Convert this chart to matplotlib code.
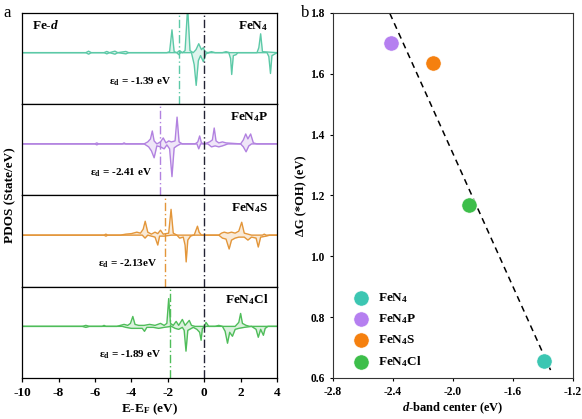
import numpy as np
import matplotlib
matplotlib.use('Agg')
import matplotlib.pyplot as plt

plt.rcParams['font.family'] = 'Liberation Serif'
plt.rcParams['font.weight'] = 'bold'
plt.rcParams['mathtext.fontset'] = 'custom'
plt.rcParams['mathtext.rm'] = 'Liberation Serif:bold'
plt.rcParams['mathtext.it'] = 'Liberation Serif:italic:bold'
plt.rcParams['mathtext.bf'] = 'Liberation Serif:bold'
plt.rcParams['axes.unicode_minus'] = False

# ---- panel a: Fe-d PDOS (energy, dos) ----
fen4_up = [(-10, 0), (-6.5, 0), (-6.35, 0.15), (-6.2, 0), (-5.5, 0), (-5.35, 0.12), (-5.2, 0),
           (-4.9, 0.15), (-4.75, 0), (-4.3, 0.12), (-4.15, 0), (-2.05, 0), (-1.9, 0.1),
           (-1.77, 2.3), (-1.65, 0.1), (-1.5, 0), (-1.35, 0.2), (-1.2, 0), (-1.05, 0.2),
           (-0.91, 4.6), (-0.78, 0.2), (-0.6, 0), (-0.45, 0.3), (-0.3, 0.9), (-0.15, 0.3),
           (-0.05, 0.5), (0.05, 0.1), (0.2, 0), (0.4, 0.1), (0.6, 0), (1.0, 0), (1.2, 0.1),
           (1.4, 0), (2.9, 0), (3.0, 0.5), (3.1, 1.9), (3.2, 0.1), (4, 0)]
fen4_dn = [(-10, 0), (-6.5, 0), (-6.35, -0.15), (-6.2, 0), (-5.5, 0), (-5.35, -0.12), (-5.2, 0),
           (-4.9, -0.15), (-4.75, 0), (-4.3, -0.12), (-4.15, 0), (-1.5, 0), (-1.4, -0.2),
           (-1.3, 0), (-0.7, 0), (-0.55, -1.2), (-0.44, -3.3), (-0.32, -0.8), (-0.2, -0.3),
           (-0.05, -0.9), (0.1, -0.1), (0.3, 0), (1.35, 0), (1.45, -0.6), (1.51, -2.2),
           (1.6, -0.3), (1.75, -0.2), (1.85, 0), (3.45, 0), (3.55, -0.4), (3.64, -2.1),
           (3.72, -0.3), (4, 0)]
fen4p_up = [(-10, 0), (-6.0, 0), (-5.9, 0.1), (-5.8, 0), (-4.5, 0), (-4.4, 0.1), (-4.3, 0),
            (-3.3, 0), (-3.1, 0.2), (-2.95, 0.5), (-2.85, 1.3), (-2.75, 0.3), (-2.6, 0),
            (-2.4, 0.2), (-2.25, 0.6), (-2.1, 0.1), (-1.95, 0.3), (-1.8, 0.2), (-1.6, 0.3),
            (-1.49, 2.7), (-1.38, 0.2), (-1.2, 0), (-0.5, 0), (-0.35, 0.2), (-0.25, 0.8),
            (-0.15, 0.1), (0, 0), (0.3, 0.2), (0.45, 0.4), (0.55, 1.6), (0.65, 0.3), (0.8, 0.1),
            (1.0, 0.2), (1.2, 0.1), (2.0, 0), (2.15, 0.4), (2.28, 1.0), (2.4, 0.5), (2.55, 1.0),
            (2.7, 0.1), (2.9, 0), (4, 0)]
fen4p_dn = [(-10, 0), (-6.0, 0), (-5.9, -0.1), (-5.8, 0), (-3.3, 0), (-3.05, -0.3), (-2.9, -0.7),
            (-2.75, -1.4), (-2.6, -0.2), (-2.4, -0.3), (-2.2, -0.5), (-2.05, -0.1), (-1.9, -0.5),
            (-1.77, -3.3), (-1.65, -0.4), (-1.5, -0.2), (-1.3, 0), (-0.4, 0), (-0.3, -0.5),
            (-0.2, 0), (0.2, 0), (0.4, -0.3), (0.6, -0.2), (0.8, -0.3), (1.0, -0.2), (1.3, 0),
            (2.0, 0), (2.15, -0.3), (2.3, -0.8), (2.45, -0.2), (2.6, 0), (4, 0)]
fen4s_up = [(-10, 0), (-5.5, 0), (-5.4, 0.1), (-5.3, 0), (-4.6, 0), (-4.3, 0.1), (-4.0, 0.15),
            (-3.7, 0.3), (-3.5, 0.2), (-3.35, 0.6), (-3.24, 1.4), (-3.1, 0.3), (-2.9, 0.1),
            (-2.7, 0.3), (-2.55, 0.15), (-2.4, 0.5), (-2.25, 0.1), (-1.95, 0.2), (-1.82, 2.6),
            (-1.7, 0.2), (-1.5, 0), (-0.55, 0), (-0.45, 0.5), (-0.37, 0.9), (-0.28, 0.3),
            (-0.15, 0), (0.8, 0), (0.95, 0.2), (1.1, 0.3), (1.3, 0.2), (1.5, 0.3), (1.7, 0.2),
            (1.9, 0.4), (2.06, 1.3), (2.2, 0.2), (2.4, 0.1), (2.6, 0), (3.2, 0), (3.3, 0.1),
            (3.4, 0), (4, 0)]
fen4s_dn = [(-10, 0), (-5.5, 0), (-5.4, -0.1), (-5.3, 0), (-3.4, 0), (-3.25, -0.3), (-3.1, 0),
            (-2.7, -0.2), (-2.55, -1.0), (-2.45, -0.1), (-2.2, -0.1), (-1.8, 0), (-1.5, 0),
            (-1.35, -0.3), (-1.15, -0.2), (-1.05, -1.0), (-0.99, -2.7), (-0.9, -0.5),
            (-0.75, -0.1), (-0.6, 0), (0.8, 0), (1.0, -0.3), (1.2, -0.4), (1.37, -1.4),
            (1.5, -0.5), (1.7, -0.3), (1.9, -0.2), (2.2, -0.2), (2.4, -0.5), (2.6, -0.2),
            (2.85, -0.3), (2.97, -1.2), (3.1, -0.2), (3.4, -0.1), (3.6, 0), (4, 0)]
fen4cl_up = [(-10, 0), (-6.7, 0), (-6.5, 0.1), (-6.3, 0), (-5.6, 0), (-5.5, 0.1), (-5.4, 0),
             (-4.8, 0), (-4.6, 0.1), (-4.4, 0.2), (-4.2, 0.1), (-4.05, 0.3), (-3.92, 1.0),
             (-3.8, 0.2), (-3.6, 0.1), (-3.3, 0.1), (-3.0, 0.2), (-2.7, 0.1), (-2.4, 0.3),
             (-2.2, 0.1), (-2.05, 0.3), (-1.95, 2.8), (-1.85, 0.3), (-1.7, 0.1), (-1.54, 0.5),
             (-1.4, 0.1), (-1.2, 0.7), (-1.05, 0.1), (-0.82, 0.6), (-0.7, 0.1), (-0.5, 0),
             (0.0, 0), (0.1, 0.4), (0.25, 0), (0.6, 0), (0.8, 0.1), (1.0, 0), (1.7, 0),
             (1.9, 0.4), (2.0, 1.3), (2.1, 0.3), (2.3, 0.1), (2.5, 0), (4, 0)]
fen4cl_dn = [(-10, 0), (-6.7, 0), (-6.5, -0.1), (-6.3, 0), (-4.5, 0), (-4.3, -0.1), (-4.0, -0.2),
             (-3.6, -0.2), (-3.4, -0.2), (-3.28, -0.5), (-3.15, -0.1), (-2.8, -0.1),
             (-2.5, -0.2), (-2.2, -0.1), (-1.8, 0), (-1.6, -0.2), (-1.4, -0.3), (-1.2, -0.1),
             (-1.1, -0.4), (-1.0, -2.5), (-0.9, -0.4), (-0.6, -0.1), (-0.4, -0.3), (-0.25, -0.6),
             (-0.17, -1.4), (-0.1, -0.2), (0.1, 0), (1.0, 0), (1.15, -0.5), (1.28, -1.7),
             (1.4, -0.6), (1.55, -1.0), (1.7, -0.3), (1.9, -0.2), (2.2, -0.1), (2.6, 0),
             (2.85, -0.3), (2.97, -1.1), (3.1, -0.3), (3.25, -0.9), (3.35, -0.2), (3.5, 0), (4, 0)]

systems = ['FeN$_4$', 'FeN$_4$P', 'FeN$_4$S', 'FeN$_4$Cl']
dos_up = [fen4_up, fen4p_up, fen4s_up, fen4cl_up]
dos_dn = [fen4_dn, fen4p_dn, fen4s_dn, fen4cl_dn]
d_centers = [-1.39, -2.41, -2.13, -1.89]
eps_labels = ['-1.39 eV', '-2.41 eV', '-2.13eV', '-1.89 eV']
line_colors = ['#5cc9a7', '#b282e0', '#e3963a', '#4fbd5a']

# ---- panel b: d-band center vs dG(*OH) ----
dband = [-1.39, -2.41, -2.13, -1.89]
dg_oh = [0.655, 1.70, 1.635, 1.17]
dot_colors = ['#3cc6b2', '#b57ff0', '#f5800f', '#3dbe4a']
fit_range = [-2.42, -1.345]


def plot_pdos(fig):
    left, width = 0.038, 0.438
    bottom, total = 0.098, 0.871
    h = total / 4
    axes = []
    for i in range(4):
        ax = fig.add_axes([left, bottom + (3 - i) * h, width, h])
        up = np.array(dos_up[i])
        dn = np.array(dos_dn[i])
        c = line_colors[i]
        ax.plot(up[:, 0], up[:, 1], color=c, lw=1.0)
        ax.plot(dn[:, 0], dn[:, 1], color=c, lw=1.0)
        ax.fill_between(up[:, 0], 0, up[:, 1], color=c, alpha=0.2, lw=0)
        ax.fill_between(dn[:, 0], 0, dn[:, 1], color=c, alpha=0.2, lw=0)
        ax.axvline(d_centers[i], color=c, lw=1.0, ls=(0, (6, 2, 1, 2)))
        ax.axvline(0, color='#222233', lw=1.0, ls=(0, (6, 2, 1, 2)))
        ax.set_xlim(-10, 4)
        ax.set_ylim(-5.2, 4)
        ax.set_yticks([])
        ax.text(0.965, 0.86, systems[i], transform=ax.transAxes, ha='right', va='center',
                fontsize=9.5, fontweight='bold')
        ax.text(d_centers[i] - 0.45, -2.9, r'$\mathregular{\varepsilon_d}$ = ' + eps_labels[i],
                ha='right', va='center', fontsize=8, fontweight='bold')
        for s in ax.spines.values():
            s.set_linewidth(0.9)
        if i < 3:
            ax.set_xticks([])
        else:
            ax.set_xticks(range(-10, 5, 2))
            ax.tick_params(axis='x', labelsize=9.5, length=3, width=0.9)
            ax.set_xlabel('E-E$_\\mathrm{F}$ (eV)', fontsize=9.5, fontweight='bold', labelpad=2)
        axes.append(ax)
    axes[0].text(0.04, 0.86, 'Fe-$\\mathit{d}$', transform=axes[0].transAxes, ha='left',
                 va='center', fontsize=9.5, fontweight='bold')
    fig.text(0.018, bottom + total / 2, 'PDOS (State/eV)', rotation=90, ha='center',
             va='center', fontsize=9.5, fontweight='bold')
    fig.text(0.006, 0.968, 'a', fontsize=12, fontweight='normal', va='center')


def plot_dband(fig):
    ax = fig.add_axes([0.572, 0.098, 0.412, 0.871])
    k, b = np.polyfit(dband, dg_oh, 1)
    xs = np.array(fit_range)
    ax.plot(xs, k * xs + b, color='black', ls=(0, (4, 3)), lw=1.1, zorder=2)
    for x, y, c, name in zip(dband, dg_oh, dot_colors, systems):
        ax.scatter(x, y, s=120, color=c, edgecolor='white', linewidth=0.4, zorder=3, label=name)
    ax.set_xlim(-2.8, -1.2)
    ax.set_ylim(0.6, 1.8)
    ax.set_xticks(np.arange(-2.8, -1.19, 0.4))
    ax.set_yticks(np.arange(0.6, 1.81, 0.2))
    ax.set_xticklabels(['-2.8', '-2.4', '-2.0', '-1.6', '-1.2'])
    ax.set_yticklabels(['0.6', '0.8', '1.0', '1.2', '1.4', '1.6', '1.8'])
    ax.tick_params(labelsize=8.3, length=2.5, width=0.8)
    for s in ax.spines.values():
        s.set_linewidth(0.8)
        s.set_color('#333333')
    ax.set_xlabel('$\\mathit{d}$-band center (eV)', fontsize=9, fontweight='bold', labelpad=2)
    ax.set_ylabel('\u0394G (*OH) (eV)', fontsize=9, fontweight='bold', labelpad=2)
    ax.legend(loc='lower left', bbox_to_anchor=(0.04, 0.01), frameon=False, fontsize=9.5,
              handletextpad=0.3, labelspacing=0.55, markerscale=1.0, borderaxespad=0)
    fig.text(0.518, 0.968, 'b', fontsize=12, fontweight='normal', va='center')


def main():
    fig = plt.figure(figsize=(5.82, 4.19), dpi=100)
    plot_pdos(fig)
    plot_dband(fig)
    fig.savefig('out.png', dpi=100)


if __name__ == '__main__':
    main()
